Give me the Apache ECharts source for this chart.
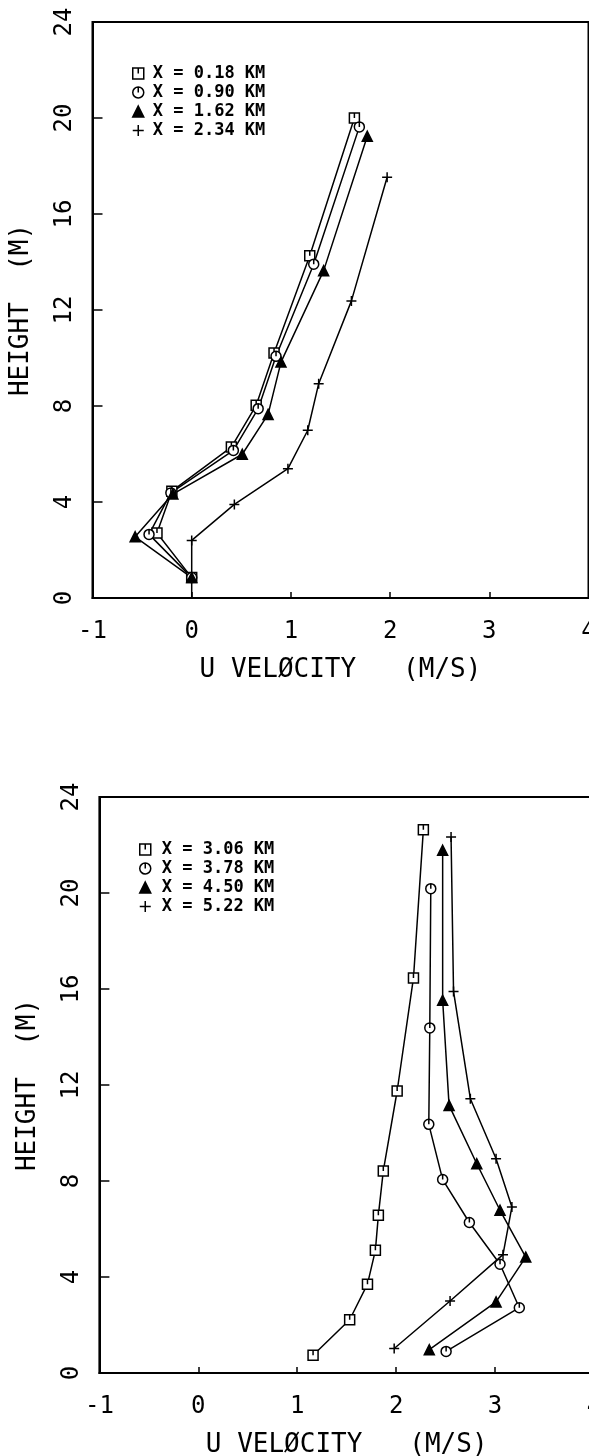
<!DOCTYPE html>
<html><head><meta charset="utf-8">
<script src="https://cdn.jsdelivr.net/npm/echarts@6/dist/echarts.min.js"></script>
<style>html,body{margin:0;padding:0;background:#fff;overflow:hidden}#c{width:589px;height:1456px}</style>
</head><body><div id="c"></div>
<script>
// ---- data (U velocity m/s, height m) ----
const xTicks = [-1, 0, 1, 2, 3, 4];
const yTicks = [0, 4, 8, 12, 16, 20, 24];

const topNames = ['X = 0.18 KM', 'X = 0.90 KM', 'X = 1.62 KM', 'X = 2.34 KM'];
const topSquareU = [0.00, -0.35, -0.20, 0.40, 0.65, 0.83, 1.19, 1.64];
const topSquareZ = [0.85, 2.71, 4.45, 6.29, 8.03, 10.21, 14.26, 20.00];
const topCircleU = [0.00, -0.43, -0.21, 0.42, 0.67, 0.85, 1.23, 1.69];
const topCircleZ = [0.85, 2.65, 4.38, 6.15, 7.89, 10.07, 13.91, 19.63];
const topTriU = [0.00, -0.57, -0.19, 0.51, 0.77, 0.90, 1.33, 1.77];
const topTriZ = [0.85, 2.55, 4.33, 5.99, 7.65, 9.83, 13.64, 19.24];
const topPlusU = [0.00, 0.00, 0.43, 0.97, 1.17, 1.28, 1.61, 1.97];
const topPlusZ = [0.00, 2.40, 3.90, 5.39, 6.99, 8.93, 12.38, 17.53];

const botNames = ['X = 3.06 KM', 'X = 3.78 KM', 'X = 4.50 KM', 'X = 5.22 KM'];
const botSquareU = [1.16, 1.53, 1.71, 1.79, 1.82, 1.87, 2.01, 2.175, 2.275];
const botSquareZ = [0.74, 2.22, 3.70, 5.11, 6.57, 8.42, 11.75, 16.46, 22.64];
const botCircleU = [2.505, 3.245, 3.05, 2.74, 2.47, 2.33, 2.34, 2.35];
const botCircleZ = [0.90, 2.72, 4.53, 6.27, 8.06, 10.36, 14.38, 20.18];
const botTriU = [2.335, 3.01, 3.31, 3.05, 2.815, 2.535, 2.47, 2.47];
const botTriZ = [0.97, 2.96, 4.83, 6.78, 8.72, 11.15, 15.53, 21.78];
const botPlusU = [1.98, 2.545, 3.08, 3.17, 3.01, 2.75, 2.58, 2.555];
const botPlusZ = [1.02, 3.00, 4.93, 6.92, 8.93, 11.43, 15.90, 22.33];

const xTitle = 'U VELØCITY   (M/S)';
const yTitle = 'HEIGHT  (M)';

// ---- styling ----
const FONT = 'DejaVu Sans Mono';
const SQUARE = 'path://M0,0H10V10H0Z M5,0V5';
const CIRCLE = 'path://M5,0A5,5 0 1,1 4.99,0Z M5,0V5';
const PLUS = 'path://M5,0V10M0,5H10';
const symbols = [SQUARE, CIRCLE, 'triangle', PLUS];
const fills = ['#fff', '#fff', '#000', '#000'];

function pts(us, zs) { return us.map((u, i) => [u, zs[i]]); }

function mkSeries(name, us, zs, gi, k) {
  return {
    type: 'line', name: name, xAxisIndex: gi, yAxisIndex: gi,
    data: pts(us, zs),
    symbol: k === 3 ? (v) => (v[1] === 0 ? 'none' : PLUS) : symbols[k],
    symbolSize: 10,
    showAllSymbol: true,
    color: '#000',
    itemStyle: { color: fills[k], borderColor: '#000', borderWidth: 1.5 },
    lineStyle: { color: '#000', width: 1.5 },
    emphasis: { disabled: true },
    z: 3
  };
}

const topSeries = [
  mkSeries(topNames[0], topSquareU, topSquareZ, 0, 0),
  mkSeries(topNames[1], topCircleU, topCircleZ, 0, 1),
  mkSeries(topNames[2], topTriU, topTriZ, 0, 2),
  mkSeries(topNames[3], topPlusU, topPlusZ, 0, 3)
];
const botSeries = [
  mkSeries(botNames[0], botSquareU, botSquareZ, 1, 0),
  mkSeries(botNames[1], botCircleU, botCircleZ, 1, 1),
  mkSeries(botNames[2], botTriU, botTriZ, 1, 2),
  mkSeries(botNames[3], botPlusU, botPlusZ, 1, 3)
];

function xAx(gi) {
  return {
    type: 'value', gridIndex: gi, min: xTicks[0], max: xTicks[xTicks.length - 1], interval: 1,
    name: xTitle, nameLocation: 'middle', nameGap: 59,
    nameTextStyle: { fontFamily: FONT, fontSize: 26, color: '#000' },
    axisLine: { show: true, onZero: false, lineStyle: { color: '#000', width: 2 } },
    axisTick: { show: true, inside: true, length: 6, lineStyle: { color: '#000', width: 1.5 } },
    axisLabel: { fontFamily: FONT, fontSize: 24, color: '#000', margin: 22, showMaxLabel: true, showMinLabel: true, hideOverlap: false },
    splitLine: { show: false }
  };
}
function yAx(gi) {
  return {
    type: 'value', gridIndex: gi, min: yTicks[0], max: yTicks[yTicks.length - 1], interval: 4,
    name: yTitle, nameLocation: 'middle', nameGap: 58, nameRotate: 90,
    nameTextStyle: { fontFamily: FONT, fontSize: 26, color: '#000' },
    axisLine: { show: true, onZero: false, lineStyle: { color: '#000', width: 2 } },
    axisTick: { show: true, inside: true, length: 10, lineStyle: { color: '#000', width: 1.5 } },
    axisLabel: { fontFamily: FONT, fontSize: 24, color: '#000', rotate: 90, margin: 16, showMaxLabel: true, showMinLabel: true, hideOverlap: false },
    splitLine: { show: false }
  };
}
function legendFor(names, left, top, pad) {
  return {
    orient: 'vertical', left: left, top: top, itemWidth: 11, itemHeight: 11, itemGap: 2,
    selectedMode: false, padding: 0,
    textStyle: { fontFamily: FONT, fontSize: 17, fontWeight: 'bold', color: '#000', lineHeight: 14, padding: [0, 0, 0, pad] },
    data: names.map((n, k) => ({
      name: n, icon: symbols[k],
      itemStyle: { color: fills[k], borderColor: '#000', borderWidth: 1.5 }
    }))
  };
}

const chart = echarts.init(document.getElementById('c'), null, { renderer: 'canvas' });
chart.setOption({
  animation: false,
  backgroundColor: '#fff',
  grid: [
    { left: 92.5, top: 22, right: 0.5, bottom: 858, outerBoundsMode: 'none', containLabel: false, show: true, borderColor: '#000', borderWidth: 2, backgroundColor: 'transparent' },
    { left: 99.4, top: 797, right: -5, bottom: 83, outerBoundsMode: 'none', containLabel: false, show: true, borderColor: '#000', borderWidth: 2, backgroundColor: 'transparent' }
  ],
  xAxis: [xAx(0), xAx(1)],
  yAxis: [yAx(0), yAx(1)],
  legend: [legendFor(topNames, 132, 65, 4), legendFor(botNames, 139, 841, 6)],
  series: topSeries.concat(botSeries)
});
</script></body></html>
